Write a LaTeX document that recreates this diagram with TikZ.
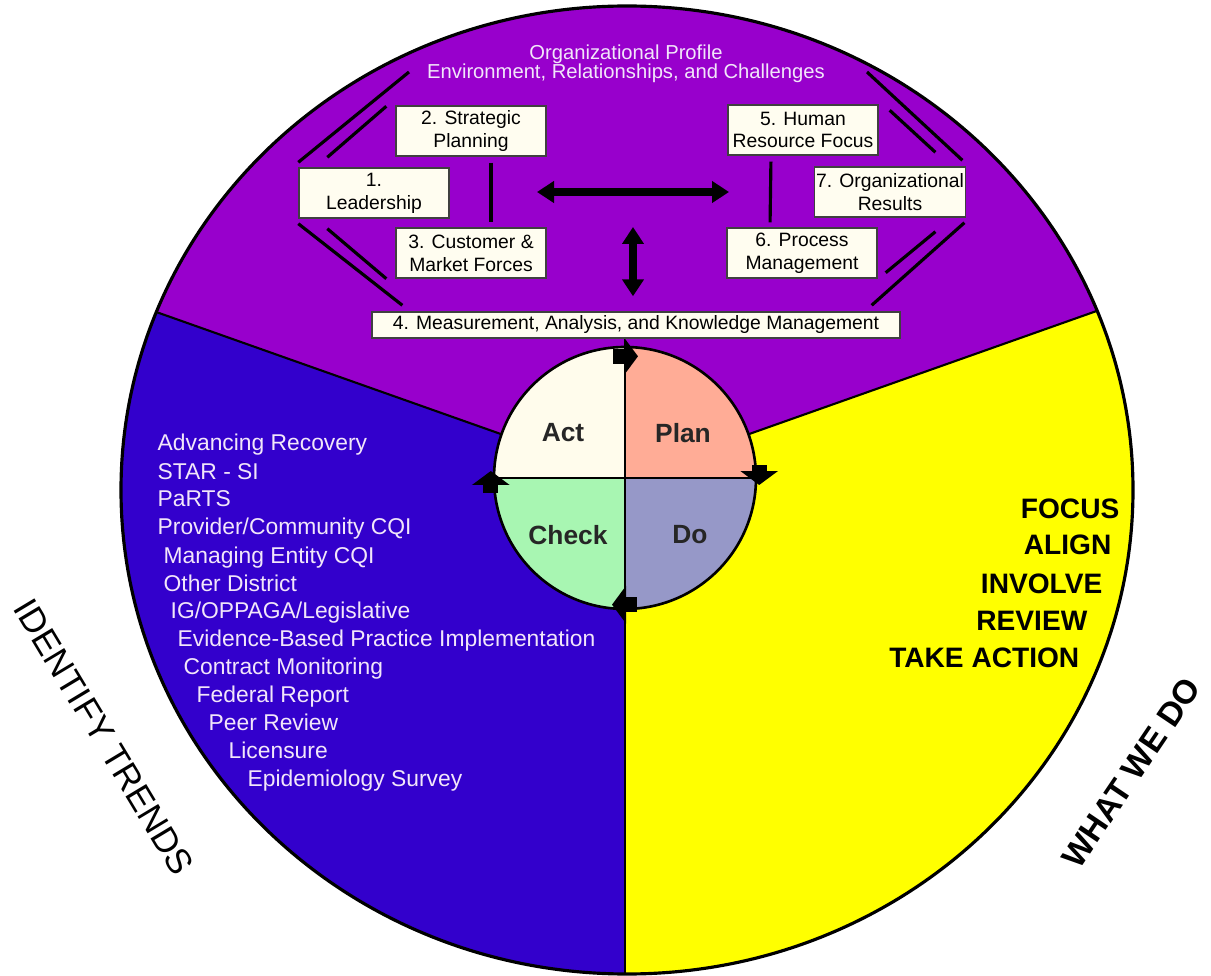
\documentclass[tikz,border=0pt]{standalone}
\usepackage{fontspec}
\setmainfont{Liberation Sans}
\usetikzlibrary{calc, shapes, arrows.meta}

\definecolor{profile}{RGB}{152,0,204}
\definecolor{trends}{RGB}{51,0,204}
\definecolor{weDo}{RGB}{255,255,0}
\definecolor{actFill}{RGB}{255,252,236}
\definecolor{planFill}{RGB}{255,172,150}
\definecolor{checkFill}{RGB}{168,246,178}
\definecolor{doFill}{RGB}{150,152,200}
\definecolor{boxFill}{RGB}{255,253,240}
\definecolor{paleText}{RGB}{242,230,250}

\begin{document}
\begin{tikzpicture}
  [
    x = 0.02cm, y = 0.02cm, thick,
    criterion/.style = {draw = black!75, fill = boxFill, line width = 0.8pt,
      minimum width = 3cm, minimum height = 1cm, inner sep = 1pt,
      align = center, font = \fontsize{11}{13}\selectfont},
    link/.style = {line width = 1.8pt},
    wide arrow/.style = {line width = 4.5pt,
      {Triangle[length = 0.34cm, width = 0.42cm]}-{Triangle[length = 0.34cm, width = 0.42cm]}},
    turn/.style = {line width = 0.3cm, -{Triangle[length = 0.28cm, width = 0.74cm]}},
    phase/.style = {font = \fontsize{15}{18}\selectfont\bfseries, text = black!85},
    trend/.style = {anchor = base west, inner sep = 0pt, text = paleText,
      font = \fontsize{13}{16}\selectfont},
    action/.style = {anchor = base east, inner sep = 0pt,
      font = \fontsize{16}{19}\selectfont\bfseries},
    banner/.style = {inner sep = 0pt, font = \fontsize{20}{22}\selectfont}
  ]
  \useasboundingbox (0,0) rectangle (1211,975);
  \coordinate (O) at (627,485);  % centre of the wheel
  \coordinate (C) at (625,497);  % centre of the PDCA circle

  \begin{scope}
    \clip (O) ellipse [x radius = 506, y radius = 484];
    \fill[weDo] (O) ellipse [x radius = 506, y radius = 484];
    \fill[profile] (C) -- ++(160.5:900) -- (-100,1100) -- (1300,1100) -- ($(C)+(19.5:900)$) -- cycle;
    \fill[trends] (C) -- ++(160.5:900) -- (-100,-100) -- (625,-100) -- cycle;
    \draw[line width = 1.2pt] (C) -- ++(160.5:900);
    \draw[line width = 1.2pt] (C) -- ++(19.5:900);
    \draw[line width = 1.2pt] (C) -- (625,-100);
  \end{scope}
  \draw[line width = 1.8pt] (O) ellipse [x radius = 506, y radius = 484];

  \node[circle, minimum size = 5.24cm, inner sep = 0pt] (pdca) at (C) {};
  \fill[actFill] (C) -- (pdca.west) arc [start angle = 180, end angle = 90, radius = 131] -- cycle;
  \fill[planFill] (C) -- (pdca.north) arc [start angle = 90, end angle = 0, radius = 131] -- cycle;
  \fill[doFill] (C) -- (pdca.east) arc [start angle = 0, end angle = -90, radius = 131] -- cycle;
  \fill[checkFill] (C) -- (pdca.south) arc [start angle = 270, end angle = 180, radius = 131] -- cycle;
  \draw[line width = 1.5pt] (pdca.center) circle [radius = 131];
  \draw[line width = 1pt] (pdca.north) -- (pdca.south) (pdca.west) -- (pdca.east);

  \draw[turn] ([xshift = -0.24cm, yshift = -0.2cm]pdca.north) -- ([xshift = 0.26cm, yshift = -0.2cm]pdca.north);
  \draw[turn] ([xshift = 0.05cm, yshift = 0.26cm]pdca.east) -- ([xshift = 0.05cm, yshift = -0.14cm]pdca.east);
  \draw[turn] ([xshift = 0.24cm, yshift = 0.1cm]pdca.south) -- ([xshift = -0.26cm, yshift = 0.1cm]pdca.south);
  \draw[turn] ([xshift = -0.05cm, yshift = -0.3cm]pdca.west) -- ([xshift = -0.05cm, yshift = 0.14cm]pdca.west);

  \node[phase] (act) at (563,542) {Act};
  \node[phase] (plan) at (683,542) {Plan};
  \node[phase] (check) at (568,440) {Check};
  \node[phase] (do) at (690,440) {Do};

  \node[text = paleText, align = center, inner sep = 0pt,
    font = \fontsize{11.5}{10.8}\selectfont] (orgprofile) at (626,911)
    {Organizational Profile\\Environment, Relationships, and Challenges};

  \node[criterion] (lead) at (374,782) {1.\\Leadership};
  \node[criterion] (strat) at (471,844) {2. Strategic\\Planning};
  \node[criterion] (cust) at (471,722) {3. Customer \&\\Market Forces};
  \node[criterion, minimum width = 10.56cm, minimum height = 0.52cm] (meas) at (636,650)
    {4. Measurement, Analysis, and Knowledge Management};
  \node[criterion] (hr) at (803,845) {5. Human\\Resource Focus};
  \node[criterion] (proc) at (802,722) {6. Process\\Management};
  \node[criterion] (res) at (890,783) {7. Organizational\\Results};

  \coordinate (pl) at (409,903);
  \coordinate (pr) at (867,903);
  \draw[link] ($(lead.north west)+(0,5)$) -- (pl);
  \draw[link] ($(lead.north west)+(29,10)$) -- ($(strat.north west)+(-9,-1)$);
  \draw[link] ($(lead.south west)+(0,-5)$) -- ($(meas.north west)+(31,6)$);
  \draw[link] ($(lead.south west)+(29,-10)$) -- ($(cust.south west)+(-9,0)$);
  \draw[link] (pr) -- ($(res.north east)+(-4,6)$);
  \draw[link] ($(hr.north east)+(11,-6)$) -- ($(res.north east)+(-31,14)$);
  \draw[link] ($(res.south east)+(-2,-5)$) -- ($(meas.north east)+(-29,6)$);
  \draw[link] ($(res.south east)+(-31,-14)$) -- ($(proc.south east)+(8,6)$);
  \draw[link, shorten < = 0.12cm, shorten > = 0.1cm] ([xshift = 0.4cm]strat.south) -- ([xshift = 0.4cm]cust.north);
  \draw[link, shorten < = 0.12cm, shorten > = 0.1cm] ([xshift = -0.64cm]hr.south) -- ([xshift = -0.64cm]proc.north);

  \coordinate (flowW) at (537,783);
  \coordinate (flowE) at (729,783);
  \coordinate (flowN) at (633,748);
  \draw[wide arrow] (flowW) -- (flowE);
  \draw[wide arrow] (flowN) -- ($(meas.north)+(-3,15)$);

  \node[trend] (t1) at (157,524) {Advancing Recovery};
  \node[trend] (t2) at (157,496) {STAR - SI};
  \node[trend] (t3) at (157,468) {PaRTS};
  \node[trend] (t4) at (157,440) {Provider/Community CQI};
  \node[trend] (t5) at (163,412) {Managing Entity CQI};
  \node[trend] (t6) at (163,384) {Other District};
  \node[trend] (t7) at (170,357) {IG/OPPAGA/Legislative};
  \node[trend] (t8) at (177,329) {Evidence-Based Practice Implementation};
  \node[trend] (t9) at (183,301) {Contract Monitoring};
  \node[trend] (t10) at (196,273) {Federal Report};
  \node[trend] (t11) at (208,245) {Peer Review};
  \node[trend] (t12) at (228,217) {Licensure};
  \node[trend] (t13) at (247,189) {Epidemiology Survey};

  \node[action] (a1) at (1120,457) {FOCUS};
  \node[action] (a2) at (1112,420) {ALIGN};
  \node[action] (a3) at (1103,382) {INVOLVE};
  \node[action] (a4) at (1088,345) {REVIEW};
  \node[action] (a5) at (1080,308) {TAKE ACTION};

  \node[banner, rotate = -59] (identify) at (104,238) {IDENTIFY TRENDS};
  \node[banner, font = \fontsize{19}{22}\selectfont\bfseries, rotate = 56] (whatwedo) at (1131,202) {WHAT WE DO};
\end{tikzpicture}
\end{document}
